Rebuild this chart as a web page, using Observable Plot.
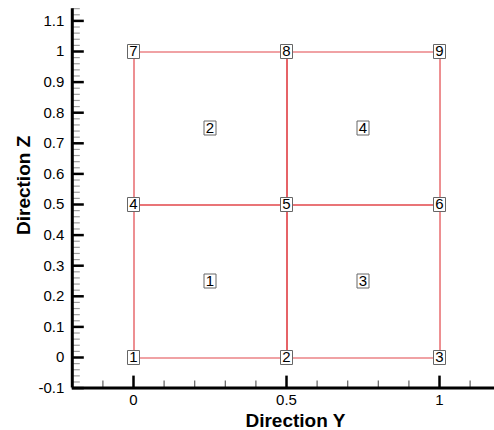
<!DOCTYPE html>
<html>
<head>
<meta charset="utf-8">
<script src="https://cdn.jsdelivr.net/npm/d3@7"></script>
<script src="https://cdn.jsdelivr.net/npm/@observablehq/plot@0.6"></script>
<style>
  html, body { margin: 0; padding: 0; background: #fff; }
  #chart svg { display: block; }
</style>
</head>
<body>
<div id="chart"></div>
<script>
// Mesh nodes: id with (Y, Z) coordinates
const nodeIds = [1, 2, 3, 4, 5, 6, 7, 8, 9];
const nodeY   = [0, 0.5, 1, 0, 0.5, 1, 0, 0.5, 1];
const nodeZ   = [0, 0, 0, 0.5, 0.5, 0.5, 1, 1, 1];

// Quad elements: id and corner node ids (counter-clockwise)
const elementIds = [1, 2, 3, 4];
const elementConnectivity = [
  [1, 2, 5, 4],
  [4, 5, 8, 7],
  [2, 3, 6, 5],
  [5, 6, 9, 8]
];

// Axis ticks
const yMajorTicks = [-0.1, 0, 0.1, 0.2, 0.3, 0.4, 0.5, 0.6, 0.7, 0.8, 0.9, 1, 1.1];
const yMinorTicks = d3.range(-5, 58).map(i => i * 0.02).filter(v => Math.abs(v * 10 - Math.round(v * 10)) > 1e-6);
const xMajorTicks = [0, 0.5, 1];
const xMinorTicks = [-0.1, 0.1, 0.2, 0.3, 0.4, 0.6, 0.7, 0.8, 0.9, 1.1];

const nodes = nodeIds.map((id, i) => ({id, y: nodeY[i], z: nodeZ[i]}));
const nodeById = new Map(nodes.map(n => [n.id, n]));

// Element outlines as closed polylines
const edges = elementIds.flatMap((id, i) => {
  const ring = [...elementConnectivity[i], elementConnectivity[i][0]];
  return ring.map(n => ({element: id, y: nodeById.get(n).y, z: nodeById.get(n).z}));
});

// Element labels placed at element centroids
const elements = elementIds.map((id, i) => {
  const ns = elementConnectivity[i].map(n => nodeById.get(n));
  return {id, y: d3.mean(ns, d => d.y), z: d3.mean(ns, d => d.z)};
});

// Rectangular label box
const labelBox = {draw(context) { context.rect(-6, -7, 12, 14); }};

const font = "'Liberation Sans', Arial, Helvetica, sans-serif";
const meshColor = "#e2474b";
const fmt = d => String(+d.toFixed(2));

const chart = Plot.plot({
  width: 494,
  height: 430,
  marginLeft: 71.8,
  marginRight: 0,
  marginTop: 8.16,
  marginBottom: 42.4,
  style: {fontFamily: font, background: "white", color: "black", overflow: "visible"},
  x: {domain: [-0.2, 1.1797], axis: null},
  y: {domain: [-0.1, 1.14], axis: null},
  marks: [
    // mesh
    Plot.line(edges, {x: "y", y: "z", z: "element", stroke: meshColor, strokeWidth: 1.2, dx: 0.5, dy: 0.5}),

    // minor ticks (inward)
    Plot.axisY(yMinorTicks, {tickSize: -8, stroke: "#a0a0a0", strokeWidth: 1.2, fill: "none", label: null}),
    Plot.axisX(xMinorTicks, {tickSize: -7, stroke: "#606060", strokeWidth: 1.2, fill: "none", label: null}),
    // major ticks (inward)
    Plot.axisY(yMajorTicks, {tickSize: -12, stroke: "black", strokeWidth: 2.5, fill: "none", label: null}),
    Plot.axisX(xMajorTicks, {tickSize: -12, stroke: "black", strokeWidth: 2.5, fill: "none", label: null}),

    // tick labels
    Plot.text(yMajorTicks, {y: d => d, text: fmt, frameAnchor: "left", textAnchor: "end", lineAnchor: "middle", dx: -8, fontSize: 15, fill: "black"}),
    Plot.text(xMajorTicks, {x: d => d, text: fmt, frameAnchor: "bottom", textAnchor: "middle", lineAnchor: "top", dy: 6, fontSize: 15, fill: "black"}),

    // axis lines
    Plot.ruleX([-0.2], {stroke: "black", strokeWidth: 3}),
    Plot.ruleY([-0.1], {stroke: "black", strokeWidth: 3}),

    // axis titles
    Plot.text(["Direction Y"], {frameAnchor: "bottom", textAnchor: "middle", lineAnchor: "middle", dx: 12, dy: 33, text: d => d, fontSize: 19, fontWeight: "bold", fill: "black"}),
    Plot.text(["Direction Z"], {frameAnchor: "left", textAnchor: "middle", lineAnchor: "middle", dx: -48, dy: -13, rotate: -90, text: d => d, fontSize: 19, fontWeight: "bold", fill: "black"}),

    // node labels
    Plot.dot(nodes, {x: "y", y: "z", symbol: labelBox, fill: "white", stroke: "#666", strokeWidth: 1}),
    Plot.text(nodes, {x: "y", y: "z", text: "id", fontSize: 15, fill: "black"}),

    // element labels
    Plot.dot(elements, {x: "y", y: "z", symbol: labelBox, fill: "white", stroke: "#666", strokeWidth: 1}),
    Plot.text(elements, {x: "y", y: "z", text: "id", fontSize: 15, fill: "black"})
  ]
});

document.getElementById("chart").append(chart);
</script>
</body>
</html>
